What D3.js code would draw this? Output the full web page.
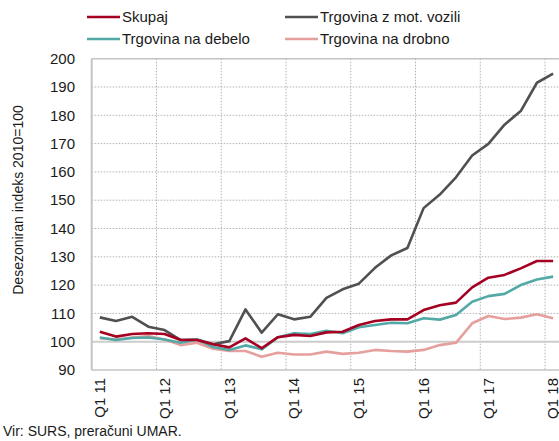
<!DOCTYPE html>
<html>
<head>
<meta charset="utf-8">
<script src="https://cdn.jsdelivr.net/npm/d3@7"></script>
<style>
  body { margin: 0; background: #fff; }
  svg text { font-family: "Liberation Sans", Arial, sans-serif; fill: #1a1a1a; }
</style>
</head>
<body>
<svg width="559" height="441"></svg>
<script>
// quarters Q1 2011 .. Q1 2018
const quarters = [
  "Q1 11","Q2 11","Q3 11","Q4 11",
  "Q1 12","Q2 12","Q3 12","Q4 12",
  "Q1 13","Q2 13","Q3 13","Q4 13",
  "Q1 14","Q2 14","Q3 14","Q4 14",
  "Q1 15","Q2 15","Q3 15","Q4 15",
  "Q1 16","Q2 16","Q3 16","Q4 16",
  "Q1 17","Q2 17","Q3 17","Q4 17",
  "Q1 18"
];
const tickLabels = ["Q1 11","Q1 12","Q1 13","Q1 14","Q1 15","Q1 16","Q1 17","Q1 18"];
const yTicks = [90,100,110,120,130,140,150,160,170,180,190,200];

const skupaj = [103.5,101.8,102.7,103.0,102.7,100.6,100.6,99.1,98.0,101.2,97.7,101.6,102.4,102.0,103.3,103.5,105.9,107.3,107.9,107.9,111.2,112.9,113.8,119.2,122.6,123.6,125.9,128.5,128.5];
const motVozila = [108.6,107.3,108.8,105.3,104.1,100.6,100.8,99.1,100.2,111.4,103.2,109.7,107.9,108.8,115.5,118.5,120.5,126.1,130.5,133.1,147.2,152.0,158.1,165.8,169.9,176.7,181.5,191.5,194.7];
const debelo = [101.5,100.6,101.3,101.5,100.8,99.6,100.8,98.1,97.1,98.7,97.3,101.6,103.0,102.7,103.9,103.0,105.1,105.9,106.7,106.5,108.3,107.8,109.4,114.1,116.1,116.9,120.0,122.0,123.0];
const drobno = [101.2,100.8,101.5,102.0,100.8,98.8,99.6,97.5,96.7,96.7,94.7,96.1,95.5,95.5,96.5,95.7,96.1,97.1,96.7,96.5,97.1,98.8,99.6,106.5,109.1,108.0,108.5,109.7,108.3];

const series = [
  {name: "Skupaj", values: skupaj, color: "#a50021"},
  {name: "Trgovina z mot. vozili", values: motVozila, color: "#505050"},
  {name: "Trgovina na debelo", values: debelo, color: "#52a9a6"},
  {name: "Trgovina na drobno", values: drobno, color: "#e59f9d"}
];
// draw order: background lines first
const drawOrder = [1, 3, 2, 0];

const svg = d3.select("svg");
const plotLeft = 91.7, plotTop = 58.7, plotBottom = 370;
const step = 16.19;

const x = d3.scaleBand().domain(quarters).range([plotLeft, plotLeft + step * quarters.length]).padding(0);
const y = d3.scaleLinear().domain([90, 200]).range([plotBottom, plotTop]);
const plotRight = plotLeft + step * quarters.length;

// horizontal grid
svg.append("g").selectAll("line")
  .data(yTicks.filter(d => d !== 90 && d !== 100 && d !== 200))
  .join("line")
  .attr("x1", plotLeft).attr("x2", plotRight)
  .attr("y1", d => y(d)).attr("y2", d => y(d))
  .attr("stroke", "#b3b3b3").attr("stroke-width", 1)
  .attr("stroke-dasharray", "1.5,1.5");

// vertical grid at year boundaries
svg.append("g").selectAll("line")
  .data(tickLabels.slice(1))
  .join("line")
  .attr("x1", d => x(d)).attr("x2", d => x(d))
  .attr("y1", plotTop).attr("y2", plotBottom)
  .attr("stroke", "#b3b3b3").attr("stroke-width", 1)
  .attr("stroke-dasharray", "1.5,1.5");

// top border, 100 baseline, bottom, left axis
svg.append("line").attr("x1", plotLeft).attr("x2", plotRight).attr("y1", y(200)).attr("y2", y(200))
  .attr("stroke", "#c4c4c4").attr("stroke-width", 1.5);
svg.append("line").attr("x1", plotLeft).attr("x2", plotRight).attr("y1", y(100)).attr("y2", y(100))
  .attr("stroke", "#cccccc").attr("stroke-width", 2);
svg.append("line").attr("x1", plotLeft).attr("x2", plotRight).attr("y1", y(90)).attr("y2", y(90))
  .attr("stroke", "#c4c4c4").attr("stroke-width", 1.5);
svg.append("line").attr("x1", plotLeft).attr("x2", plotLeft).attr("y1", y(200)).attr("y2", y(90))
  .attr("stroke", "#c4c4c4").attr("stroke-width", 2);

// y tick labels
svg.append("g").selectAll("text")
  .data(yTicks)
  .join("text")
  .attr("x", 75).attr("y", d => y(d))
  .attr("dy", "0.35em")
  .attr("text-anchor", "end")
  .attr("font-size", 15)
  .text(d => d);

// x tick labels (rotated)
svg.append("g").selectAll("text")
  .data(tickLabels)
  .join("text")
  .attr("transform", d => `translate(${x(d) + x.bandwidth() / 2},378) rotate(-90)`)
  .attr("dy", "0.35em")
  .attr("text-anchor", "end")
  .attr("font-size", 15)
  .text(d => d);

// y axis title
svg.append("text")
  .attr("transform", "translate(18,200) rotate(-90)")
  .attr("dy", "0.35em")
  .attr("text-anchor", "middle")
  .attr("font-size", 14)
  .text("Desezoniran indeks 2010=100");

// lines
const line = d3.line()
  .x((d, i) => x(quarters[i]) + x.bandwidth() / 2)
  .y(d => y(d));

svg.append("g").selectAll("path")
  .data(drawOrder.map(i => series[i]))
  .join("path")
  .attr("d", d => line(d.values))
  .attr("fill", "none")
  .attr("stroke", d => d.color)
  .attr("stroke-width", 2.6)
  .attr("stroke-linejoin", "round");

// legend
const legendPos = [[87, 17], [285, 17], [87, 39], [285, 39]];
const lg = svg.append("g").selectAll("g")
  .data(series)
  .join("g")
  .attr("transform", (d, i) => `translate(${legendPos[i][0]},${legendPos[i][1]})`);
lg.append("line")
  .attr("x1", 0).attr("x2", 33)
  .attr("stroke", d => d.color).attr("stroke-width", 2.6);
lg.append("text")
  .attr("x", 35).attr("dy", "0.35em")
  .attr("font-size", 15)
  .text(d => d.name);

// source
svg.append("text")
  .attr("x", 3).attr("y", 436)
  .attr("font-size", 14)
  .text("Vir: SURS, preračuni UMAR.");
</script>
</body>
</html>
